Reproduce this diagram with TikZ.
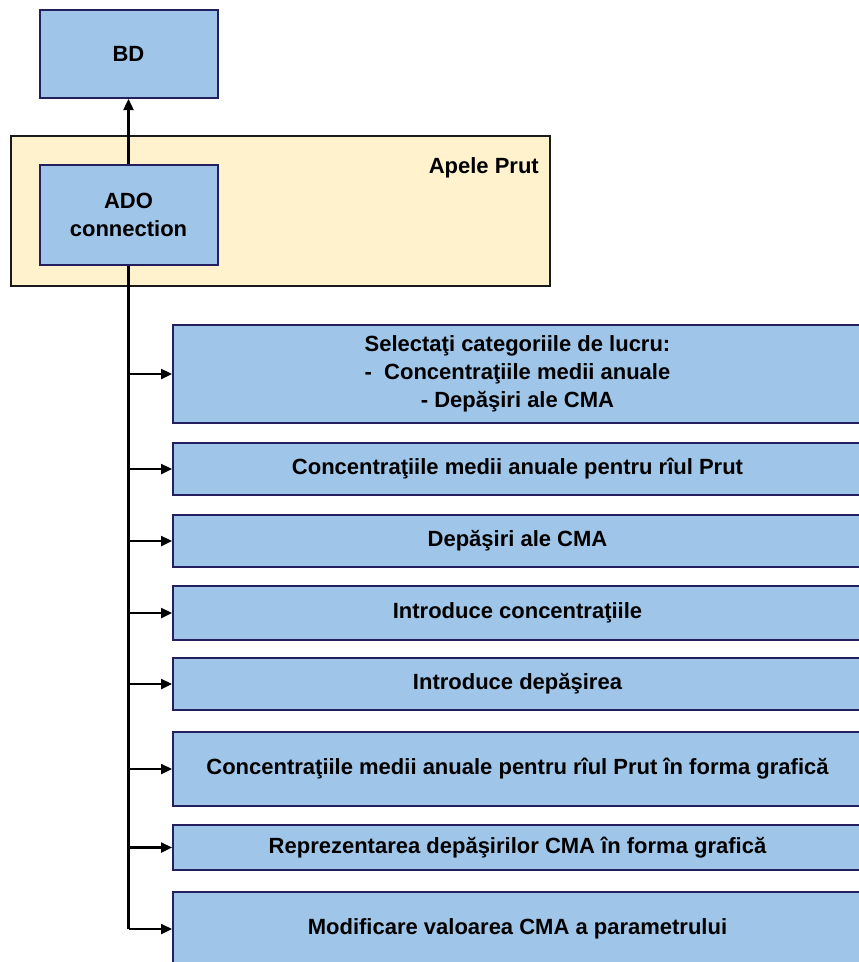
\documentclass[tikz,border=0pt]{standalone}
\usepackage{fontspec}
\setmainfont{Liberation Sans}
\usetikzlibrary{arrows.meta}
\definecolor{boxblue}{HTML}{9FC5E8}
\definecolor{boxedge}{HTML}{241F5E}
\definecolor{contfill}{HTML}{FFF2CC}
\definecolor{contedge}{HTML}{1A1A1A}
\tikzset{
  bluebox/.style={draw=boxedge, fill=boxblue, line width=2pt, rectangle, inner sep=0pt,
    align=center, font=\fontsize{22}{28}\selectfont\bfseries, text=black},
  container/.style={draw=contedge, fill=contfill, line width=2pt, rectangle, inner sep=0pt},
  branch/.style={line width=2.4pt, -{Triangle[length=11pt,width=10pt]}},
  trunk/.style={line width=3.2pt},
  lbl/.style={font=\fontsize{22}{28}\selectfont\bfseries, inner sep=0pt}
}
\begin{document}
\begin{tikzpicture}[x=1pt,y=-1pt]
\useasboundingbox (0,0) rectangle (859,962);
\clip (0,0) rectangle (859,962);
% container
\node[container, minimum width=539pt, minimum height=150pt] (cont) at (280.5,211) {};
\node[lbl, anchor=east] (apele) at (539,168) {Apele Prut};
% top boxes
\node[bluebox, minimum width=178pt, minimum height=88pt] (bd) at (128.5,54) {BD};
\node[bluebox, minimum width=178pt, minimum height=100pt] (ado) at (128.5,215) {ADO\\connection};
% right boxes
\node[bluebox, minimum width=689pt, minimum height=98pt] (b1) at (517.5,374) {Selectaţi categoriile de lucru:\\-\ \ Concentraţiile medii anuale\\- Depăşiri ale CMA};
\node[bluebox, minimum width=689pt, minimum height=52pt] (b2) at (517.5,469) {Concentraţiile medii anuale pentru rîul Prut};
\node[bluebox, minimum width=689pt, minimum height=52pt] (b3) at (517.5,541) {Depăşiri ale CMA};
\node[bluebox, minimum width=689pt, minimum height=54pt] (b4) at (517.5,613) {Introduce concentraţiile};
\node[bluebox, minimum width=689pt, minimum height=52pt] (b5) at (517.5,684) {Introduce depăşirea};
\node[bluebox, minimum width=689pt, minimum height=74pt] (b6) at (517.5,769) {Concentraţiile medii anuale pentru rîul Prut în forma grafică};
\node[bluebox, minimum width=689pt, minimum height=45pt] (b7) at (517.5,847.5) {Reprezentarea depăşirilor CMA în forma grafică};
\node[bluebox, minimum width=689pt, minimum height=74pt] (b8) at (517.5,929) {Modificare valoarea CMA a parametrului};
% connectors
\draw[branch] (ado.north) -- (bd.south);
\draw[trunk] (ado.south) -- (ado.south |- b8.west) coordinate (tend);
\draw[branch] (tend) -- (b8.west);
\foreach \b in {b1,b2,b3,b4,b5,b6,b7}{
  \draw[branch] (ado.south |- \b.west) -- (\b.west);
}
\end{tikzpicture}
\end{document}
